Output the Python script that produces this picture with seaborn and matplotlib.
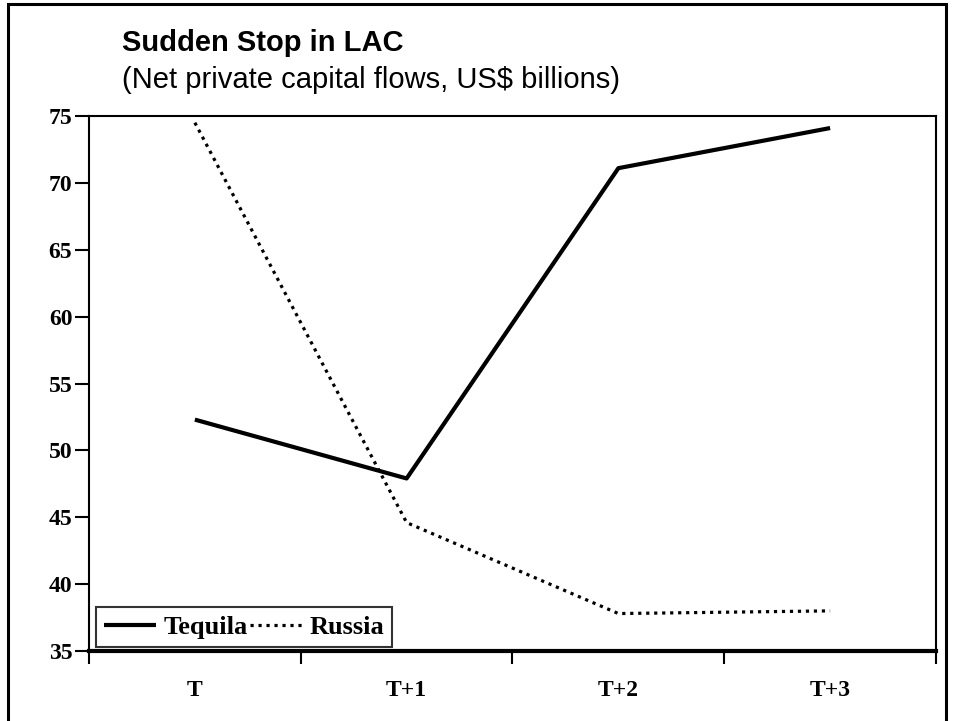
import pandas as pd
import matplotlib.pyplot as plt
import seaborn as sns
from matplotlib.patches import Rectangle

periods = ["T", "T+1", "T+2", "T+3"]
tequila = [52.3, 47.9, 71.1, 74.1]
russia = [74.5, 44.6, 37.8, 38.0]

df = pd.DataFrame({
    "period": periods * 2,
    "value": tequila + russia,
    "series": ["Tequila"] * 4 + ["Russia"] * 4,
})

sns.set_style("white")
plt.rcParams["font.family"] = ["Liberation Serif", "DejaVu Serif"]
plt.rcParams["text.color"] = "black"
plt.rcParams["xtick.color"] = "black"
plt.rcParams["ytick.color"] = "black"
plt.rcParams["xtick.labelcolor"] = "black"
plt.rcParams["ytick.labelcolor"] = "black"

fig = plt.figure(figsize=(9.54, 7.21), dpi=100)
ax = fig.add_axes([89 / 954, 1 - 651 / 721, (936 - 89) / 954, (651 - 116) / 721])

sns.lineplot(data=df, x="period", y="value", hue="series", style="series",
             palette={"Tequila": "black", "Russia": "black"},
             dashes={"Tequila": "", "Russia": (1, 1.5)},
             sort=False, legend=False, ax=ax)

ax.lines[0].set_linewidth(3.0)
ax.lines[1].set_linewidth(2.3)
ax.lines[1].set_dash_capstyle("butt")
ax.lines[0].set_solid_capstyle("butt")

ax.set_xlim(-0.5, 3.5)
ax.set_ylim(35, 75)
ax.set_yticks(range(35, 80, 5))
ax.set_xlabel("")
ax.set_ylabel("")

for s in ["left", "top", "right"]:
    ax.spines[s].set_linewidth(1.5)
    ax.spines[s].set_color("black")
ax.spines["bottom"].set_linewidth(3)
ax.spines["bottom"].set_color("black")

# boundary ticks between categories
ax.set_xticks([-0.5, 0.5, 1.5, 2.5, 3.5], minor=True)
ax.tick_params(axis="x", which="major", length=0, pad=21, labelsize=17,
               labelcolor="black")
ax.tick_params(axis="x", which="minor", length=9, width=1.5, direction="out",
               color="black", bottom=True)
ax.tick_params(axis="y", length=10, width=1.5, direction="out", color="black",
               left=True, labelsize=17, pad=2, labelcolor="black")
for lab in ax.get_xticklabels() + ax.get_yticklabels():
    lab.set_fontweight("bold")

leg = ax.legend(handles=ax.lines[:2], labels=["Tequila", "Russia"], ncol=2,
                loc="lower left", bbox_to_anchor=(0.008, 0.008), borderaxespad=0,
                frameon=True, fancybox=False, handlelength=2.0, handletextpad=0.25,
                columnspacing=0.1, borderpad=0.3, labelcolor="black",
                prop={"family": "Liberation Serif", "weight": "bold", "size": 19})
leg.get_frame().set_edgecolor("black")
leg.get_frame().set_linewidth(1.5)

fig.text(122 / 954, 1 - 51 / 721, "Sudden Stop in LAC", family="Liberation Sans",
         fontweight="bold", fontsize=21, va="baseline", ha="left", color="black")
fig.text(122 / 954, 1 - 88 / 721, "(Net private capital flows, US$ billions)",
         family="Liberation Sans", fontsize=21, va="baseline", ha="left", color="black")

fig.patches.append(Rectangle((8 / 954, -0.05), (946 - 8) / 954, 1.05 - 4 / 721,
                             transform=fig.transFigure, fill=False,
                             edgecolor="black", linewidth=2.2, clip_on=False))

fig.savefig("out.png", dpi=100)
